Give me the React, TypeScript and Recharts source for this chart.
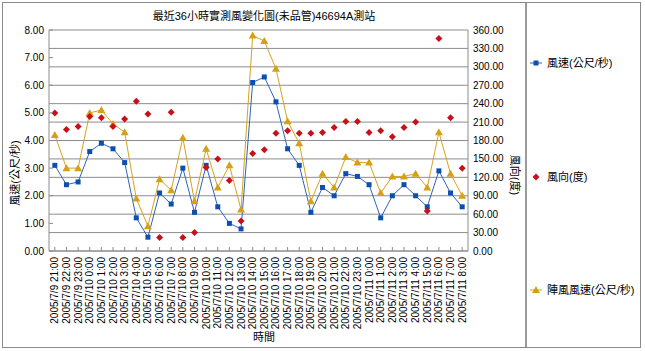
import React from 'react';
import { ComposedChart, Line, XAxis, YAxis, CartesianGrid, Legend } from 'recharts';

const times = [
  '2005/7/9 21:00', '2005/7/9 22:00', '2005/7/9 23:00',
  '2005/7/10 0:00', '2005/7/10 1:00', '2005/7/10 2:00', '2005/7/10 3:00', '2005/7/10 4:00',
  '2005/7/10 5:00', '2005/7/10 6:00', '2005/7/10 7:00', '2005/7/10 8:00', '2005/7/10 9:00',
  '2005/7/10 10:00', '2005/7/10 11:00', '2005/7/10 12:00', '2005/7/10 13:00', '2005/7/10 14:00',
  '2005/7/10 15:00', '2005/7/10 16:00', '2005/7/10 17:00', '2005/7/10 18:00', '2005/7/10 19:00',
  '2005/7/10 20:00', '2005/7/10 21:00', '2005/7/10 22:00', '2005/7/10 23:00',
  '2005/7/11 0:00', '2005/7/11 1:00', '2005/7/11 2:00', '2005/7/11 3:00', '2005/7/11 4:00',
  '2005/7/11 5:00', '2005/7/11 6:00', '2005/7/11 7:00', '2005/7/11 8:00',
];

const windSpeed = [3.1, 2.4, 2.5, 3.6, 3.9, 3.7, 3.2, 1.2, 0.5, 2.1, 1.7, 3.0, 1.4, 3.1, 1.6, 1.0, 0.8, 6.1, 6.3, 5.4, 3.7, 3.1, 1.4, 2.3, 2.0, 2.8, 2.7, 2.4, 1.2, 2.0, 2.4, 2.0, 1.6, 2.9, 2.1, 1.6];
const windDir = [225, 198, 203, 219, 217, 203, 215, 244, 223, 22, 226, 22, 30, 136, 150, 115, 49, 159, 165, 192, 196, 192, 192, 193, 201, 211, 211, 193, 196, 186, 201, 210, 65, 346, 217, 135];
const gustSpeed = [4.2, 3.0, 3.0, 5.0, 5.1, 4.6, 4.3, 1.9, 0.9, 2.6, 2.2, 4.1, 1.8, 3.7, 2.3, 3.1, 1.5, 7.8, 7.6, 6.6, 4.7, 3.9, 1.8, 2.8, 2.3, 3.4, 3.2, 3.2, 2.1, 2.7, 2.7, 2.8, 2.3, 4.3, 2.8, 2.0];

const speedTicks = [0, 1, 2, 3, 4, 5, 6, 7, 8];
const dirTicks = [0, 30, 60, 90, 120, 150, 180, 210, 240, 270, 300, 330, 360];

const seriesNames = { speed: '風速(公尺/秒)', dir: '風向(度)', gust: '陣風風速(公尺/秒)' };
const chartTitle = '最近36小時實測風變化圖(未品管)46694A測站';
const leftAxisTitle = '風速(公尺/秒)';
const rightAxisTitle = '風向(度)';
const xAxisTitle = '時間';

const data = times.map((t, i) => ({ time: t, speed: windSpeed[i], dir: windDir[i], gust: gustSpeed[i] }));

const FONT = '"Liberation Sans", Arial, "Noto Sans CJK TC", sans-serif';
const GRID = '#8c8c8c';
const BLUE_LINE = '#2f63bd';
const BLUE_MARK = '#0c4fae';
const GOLD_LINE = '#d6a31e';
const GOLD_MARK = '#d4a017';
const RED = '#c8101a';

const SquareDot = (props: any) => {
  const { cx, cy, index } = props;
  if (cx == null || cy == null) return <g key={`s${index}`} />;
  return <rect key={`s${index}`} x={cx - 2.5} y={cy - 2.5} width={5} height={5} fill={BLUE_MARK} />;
};

const TriDot = (props: any) => {
  const { cx, cy, index } = props;
  if (cx == null || cy == null) return <g key={`t${index}`} />;
  return <path key={`t${index}`} d={`M${cx},${cy - 4}L${cx + 4},${cy + 3}L${cx - 4},${cy + 3}Z`} fill={GOLD_MARK} />;
};

const DiamondDot = (props: any) => {
  const { cx, cy, index } = props;
  if (cx == null || cy == null) return <g key={`d${index}`} />;
  return <path key={`d${index}`} d={`M${cx},${cy - 3.5}L${cx + 3.5},${cy}L${cx},${cy + 3.5}L${cx - 3.5},${cy}Z`} fill={RED} />;
};

const XTick = (props: any) => {
  const { x, y, payload } = props;
  return (
    <g>
      <line x1={x} x2={x} y1={y - 6} y2={y - 10} stroke={GRID} />
      <g transform={`translate(${x},${y})`}>
        <text transform="rotate(-90)" textAnchor="end" dy="0.35em" fontSize={10} fontFamily={FONT} fill="#000">
          {payload.value}
        </text>
      </g>
    </g>
  );
};

const LeftTick = (props: any) => {
  const { x, y, payload } = props;
  return (
    <g>
      <line x1={x + 5} x2={x + 9} y1={y} y2={y} stroke={GRID} />
      <text x={x} y={y} textAnchor="end" dy="0.35em" fontSize={10} fontFamily={FONT} fill="#000">
        {Number(payload.value).toFixed(2)}
      </text>
    </g>
  );
};

const RightTick = (props: any) => {
  const { x, y, payload } = props;
  return (
    <text x={x} y={y} textAnchor="start" dy="0.35em" fontSize={10} fontFamily={FONT} fill="#000">
      {Number(payload.value).toFixed(2)}
    </text>
  );
};

const legendOrder = ['speed', 'dir', 'gust'];
const legendY = [61, 175, 288];

const LegendContent = () => (
  <div style={{ position: 'relative', width: 113, height: 345 }}>
    {legendOrder.map((k, i) => (
      <div key={k} style={{ position: 'absolute', left: 0, top: legendY[i] - 8, height: 16, width: 113 }}>
        <svg width={18} height={16} style={{ position: 'absolute', left: 2, top: 0 }}>
          {k === 'speed' && (
            <g>
              <line x1={1} x2={13} y1={8} y2={8} stroke={BLUE_LINE} />
              <rect x={4.5} y={5.5} width={5} height={5} fill={BLUE_MARK} />
            </g>
          )}
          {k === 'dir' && <path d="M7,4.5L10.5,8L7,11.5L3.5,8Z" fill={RED} />}
          {k === 'gust' && (
            <g>
              <line x1={1} x2={13} y1={8} y2={8} stroke={GOLD_LINE} />
              <path d="M7,4L11,11L3,11Z" fill={GOLD_MARK} />
            </g>
          )}
        </svg>
        <span style={{ position: 'absolute', left: 20, top: 0, lineHeight: '16px', fontSize: 11, fontFamily: FONT, color: '#000', whiteSpace: 'nowrap' }}>
          {(seriesNames as any)[k]}
        </span>
      </div>
    ))}
  </div>
);

export default function App() {
  return (
    <div style={{ position: 'absolute', left: 0, top: 0, width: 645, height: 351, background: '#fff' }}>
      <ComposedChart width={645} height={351} data={data} margin={{ top: 30, right: 117, bottom: 10, left: 4 }}>
        <CartesianGrid yAxisId="right" vertical={false} stroke={GRID} />
        <XAxis
          dataKey="time"
          interval={0}
          height={90}
          padding={{ left: 5.82, right: 5.82 }}
          tickLine={false}
          tickSize={0}
          tickMargin={6}
          axisLine={{ stroke: GRID }}
          tick={<XTick />}
        />
        <YAxis
          yAxisId="left"
          domain={[0, 8]}
          ticks={speedTicks}
          width={45}
          tickLine={false}
          tickSize={0}
          tickMargin={5}
          axisLine={{ stroke: GRID }}
          tick={<LeftTick />}
          interval={0}
        />
        <YAxis
          yAxisId="right"
          orientation="right"
          domain={[0, 360]}
          ticks={dirTicks}
          width={60}
          tickLine={false}
          tickSize={0}
          tickMargin={5}
          axisLine={{ stroke: GRID }}
          tick={<RightTick />}
          interval={0}
        />
        <Line yAxisId="left" dataKey="speed" name={seriesNames.speed} stroke={BLUE_LINE} strokeWidth={1} dot={SquareDot} activeDot={false} isAnimationActive={false} />
        <Line yAxisId="left" dataKey="gust" name={seriesNames.gust} stroke={GOLD_LINE} strokeWidth={1} dot={TriDot} activeDot={false} isAnimationActive={false} />
        <Line yAxisId="right" dataKey="dir" name={seriesNames.dir} stroke="none" dot={DiamondDot} activeDot={false} isAnimationActive={false} />
        <Legend
          layout="vertical"
          align="center"
          verticalAlign="middle"
          content={<LegendContent />}
          wrapperStyle={{ left: 527, top: 2, width: 113, height: 345 }}
        />
      </ComposedChart>
      <svg width={645} height={351} style={{ position: 'absolute', left: 0, top: 0, pointerEvents: 'none' }}>
        <rect x={2.5} y={2.5} width={638} height={345} fill="none" stroke="#8a8a8a" />
        <line x1={526} x2={526} y1={2.5} y2={347.5} stroke="#7a7a7a" strokeWidth={1.5} />
        <text x={264} y={16} textAnchor="middle" dy="0.35em" fontSize={11} fontFamily={FONT} fill="#000">{chartTitle}</text>
        <text transform="translate(15,173) rotate(-90)" textAnchor="middle" dy="0.35em" fontSize={11} fontFamily={FONT} fill="#000">{leftAxisTitle}</text>
        <text transform="translate(515,175) rotate(90)" textAnchor="middle" dy="0.35em" fontSize={11} fontFamily={FONT} fill="#000">{rightAxisTitle}</text>
        <text x={264} y={337} textAnchor="middle" dy="0.35em" fontSize={11} fontFamily={FONT} fill="#000">{xAxisTitle}</text>
      </svg>
    </div>
  );
}
